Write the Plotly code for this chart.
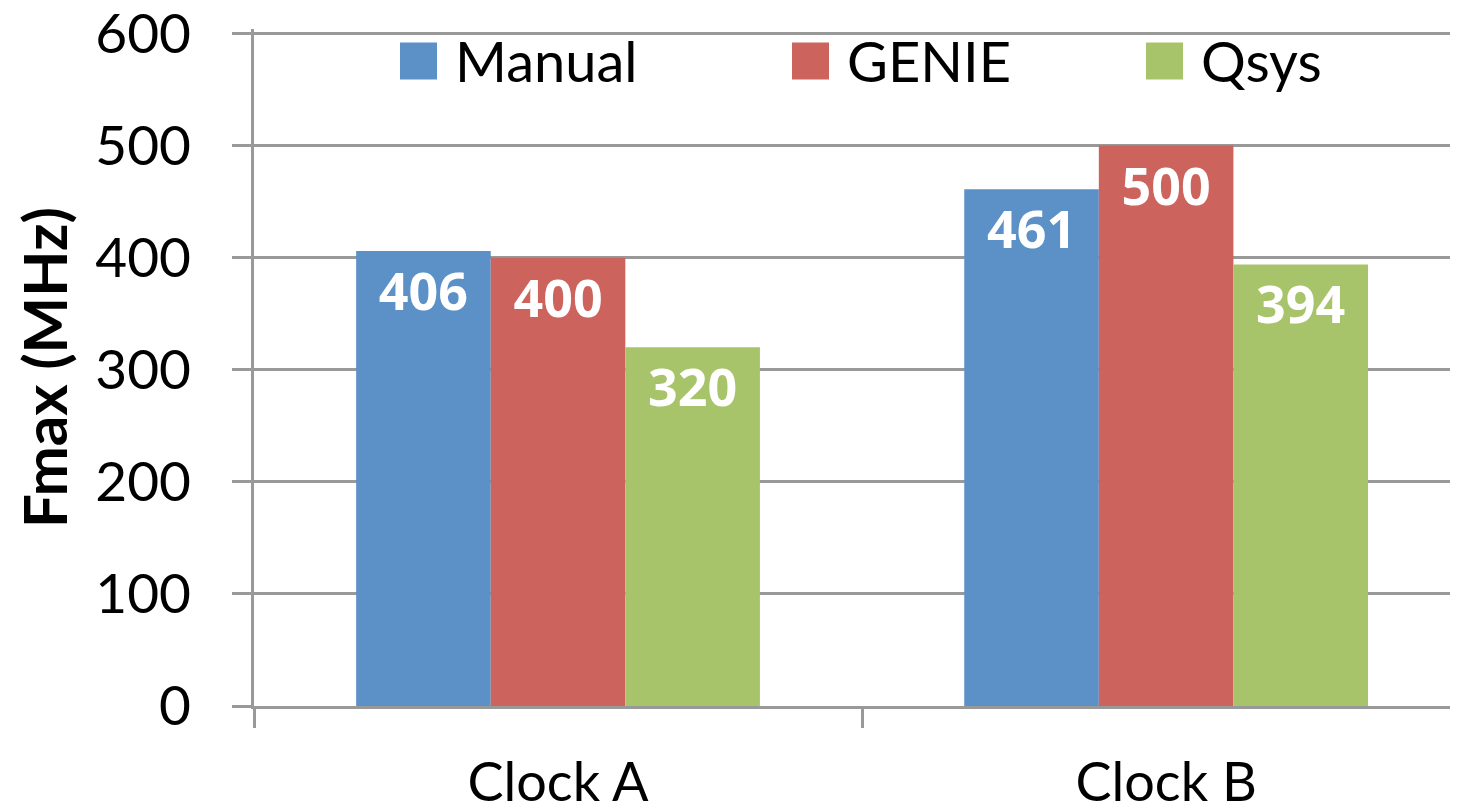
import plotly.graph_objects as go

categories = ["Clock A", "Clock B"]
series_names = ["Manual", "GENIE", "Qsys"]
manual_vals = [406, 461]
genie_vals = [400, 500]
qsys_vals = [320, 394]
series_colors = ["#5C91C8", "#CC635D", "#A8C46A"]
y_ticks = [0, 100, 200, 300, 400, 500, 600]
y_top = 604

# page has an 8px body margin: the figure occupies page x 8..1458, y 8..812
OFF = 8
W, H = 1450, 804
L, R, B = 246, 0, 106
PX_PER_UNIT = (706 - 33) / 600.0
PH = y_top * PX_PER_UNIT
T = H - B - PH
PW = W - L - R

def px_x(p):
    return (p - OFF - L) / PW

def px_y(p):
    return (H - B - (p - OFF)) / PH

fig = go.Figure()
for name, vals, col in zip(series_names, [manual_vals, genie_vals, qsys_vals], series_colors):
    fig.add_trace(go.Bar(
        x=categories, y=vals, name=name, marker_color=col, marker_line_width=0,
        texttemplate="%{y}", textposition="inside", insidetextanchor="end",
        textfont=dict(family="Noto Sans", size=52, color="white", weight="bold"),
        showlegend=False, cliponaxis=False,
    ))

grid = "#999999"
fig.update_layout(
    width=W, height=H,
    margin=dict(l=L, r=R, t=T, b=B, autoexpand=False),
    paper_bgcolor="white", plot_bgcolor="white",
    barmode="group", bargap=0.336, bargroupgap=0,
    font=dict(family="Lato", size=55, color="black"),
    xaxis=dict(
        range=[-0.5, 1.48], showline=True, linecolor=grid, linewidth=3,
        ticks="outside", tickson="boundaries", ticklen=19, tickwidth=3, tickcolor=grid,
        showgrid=False, zeroline=False, ticklabelstandoff=27,
        tickfont=dict(family="Lato", size=54, color="black"),
    ),
    yaxis=dict(
        range=[0, y_top], tickvals=y_ticks, showline=True, linecolor=grid, linewidth=3,
        ticks="outside", ticklen=19, tickwidth=3, tickcolor=grid,
        showgrid=True, gridcolor=grid, gridwidth=3, zeroline=False,
        ticklabelstandoff=30, ticklabeloverflow="allow",
        tickfont=dict(family="Lato", size=55, color="black"),
        title=dict(text="Fmax (MHz)", standoff=29,
                   font=dict(family="Lato", size=60, color="black", weight="bold")),
    ),
)

# legend drawn as layout decoration
sq_x = [400, 792, 1146]
for name, col, sx in zip(series_names, series_colors, sq_x):
    fig.add_shape(type="rect", xref="paper", yref="paper",
                  x0=px_x(sx), x1=px_x(sx + 37), y0=px_y(79), y1=px_y(42),
                  fillcolor=col, line_width=0, layer="above")
    fig.add_annotation(xref="paper", yref="paper", x=px_x(sx + 53), y=px_y(60),
                       xanchor="left", yanchor="middle", showarrow=False,
                       text=name, font=dict(family="Lato", size=56, color="black"))

fig.write_html("out.html")
